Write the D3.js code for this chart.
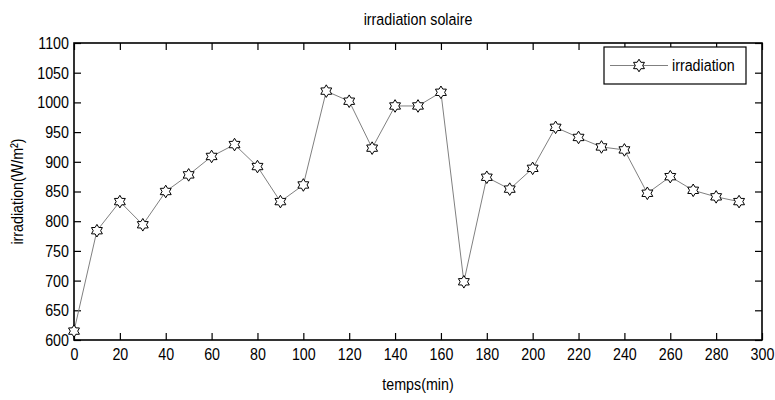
<!DOCTYPE html>
<html>
<head>
<meta charset="utf-8">
<script src="https://cdn.jsdelivr.net/npm/d3@7"></script>
<style>
  body { margin: 0; background: #fff; }
  text { font-family: "Liberation Sans", Arial, sans-serif; fill: #000; }
</style>
</head>
<body>
<div id="chart"></div>
<script>
// Data
const temps = [0, 10, 20, 30, 40, 50, 60, 70, 80, 90, 100, 110, 120, 130, 140,
  150, 160, 170, 180, 190, 200, 210, 220, 230, 240, 250, 260, 270, 280, 290];
const irradiation = [615, 784, 833, 794, 850, 878, 909, 929, 892, 833, 861, 1019, 1002, 923, 994,
  994, 1017, 698, 874, 854, 889, 958, 941, 925, 920, 847, 875, 852, 841, 833];
const xTicks = d3.range(0, 301, 20);
const yTicks = d3.range(600, 1101, 50);

const W = 775, H = 400;
const margin = { top: 43, right: 13, bottom: 60, left: 74 };
const innerW = W - margin.left - margin.right;
const innerH = H - margin.top - margin.bottom;
const squeeze = 0.84; // the original uses a narrow Arial

const svg = d3.select('#chart').append('svg')
  .attr('width', W)
  .attr('height', H);

const g = svg.append('g')
  .attr('transform', `translate(${margin.left},${margin.top})`);

const x = d3.scaleLinear().domain([0, 300]).range([0, innerW]);
const y = d3.scaleLinear().domain([600, 1100]).range([innerH, 0]);

// MATLAB-like inward ticks on all four sides
const tickLen = 7;
g.append('g')
  .attr('transform', `translate(0,${innerH})`)
  .call(d3.axisBottom(x).tickValues(xTicks).tickSizeInner(-tickLen).tickSizeOuter(0).tickPadding(8).tickFormat(d3.format('d')))
  .call(a => a.select('.domain').remove())
  .call(a => a.selectAll('text').style('font-size', '17px').attr('transform', `scale(${squeeze},1)`));
g.append('g')
  .call(d3.axisTop(x).tickValues(xTicks).tickSizeInner(-tickLen).tickSizeOuter(0).tickFormat(''))
  .call(a => a.select('.domain').remove());
g.append('g')
  .call(d3.axisLeft(y).tickValues(yTicks).tickSizeInner(-tickLen).tickSizeOuter(0).tickPadding(6).tickFormat(d3.format('d')))
  .call(a => a.select('.domain').remove())
  .call(a => a.selectAll('text').style('font-size', '17px').attr('transform', `scale(${squeeze},1)`));
g.append('g')
  .attr('transform', `translate(${innerW},0)`)
  .call(d3.axisRight(y).tickValues(yTicks).tickSizeInner(-tickLen).tickSizeOuter(0).tickFormat(''))
  .call(a => a.select('.domain').remove());
g.selectAll('.tick line').attr('stroke', '#000').attr('stroke-width', 1.2);

// box
g.append('rect')
  .attr('width', innerW).attr('height', innerH)
  .attr('fill', 'none').attr('stroke', '#000').attr('stroke-width', 1.6);

// hexagram marker
const hexStar = (() => {
  const pts = [];
  const ro = 6.3, ri = 3.7;
  for (let i = 0; i < 12; i++) {
    const a = -Math.PI / 2 + i * Math.PI / 6;
    const r = i % 2 === 0 ? ro : ri;
    pts.push([r * Math.cos(a), r * Math.sin(a)]);
  }
  return 'M' + pts.map(p => p.join(',')).join('L') + 'Z';
})();

const pts = temps.map((t, i) => ({ t: t, v: irradiation[i] }));

g.append('path')
  .datum(pts)
  .attr('fill', 'none')
  .attr('stroke', '#808080')
  .attr('stroke-width', 1)
  .attr('d', d3.line().x(d => x(d.t)).y(d => y(d.v)));

g.selectAll('.marker')
  .data(pts)
  .join('path')
  .attr('class', 'marker')
  .attr('transform', d => `translate(${x(d.t)},${y(d.v)})`)
  .attr('d', hexStar)
  .attr('fill', '#fff')
  .attr('stroke', '#000')
  .attr('stroke-width', 1);

// legend
const legend = svg.append('g').attr('transform', 'translate(604,47)');
legend.append('rect')
  .attr('width', 142).attr('height', 37)
  .attr('fill', '#fff').attr('stroke', '#000').attr('stroke-width', 1.2);
legend.append('line')
  .attr('x1', 6).attr('x2', 64).attr('y1', 18.5).attr('y2', 18.5)
  .attr('stroke', '#808080').attr('stroke-width', 1);
legend.append('path')
  .attr('transform', 'translate(35,18.5)')
  .attr('d', hexStar)
  .attr('fill', '#fff').attr('stroke', '#000');
legend.append('text')
  .attr('transform', `translate(68,18.5) scale(${squeeze},1)`)
  .attr('dy', '0.35em')
  .style('font-size', '17px')
  .text('irradiation');

// title and labels
svg.append('text')
  .attr('transform', `translate(${margin.left + innerW / 2},25) scale(${squeeze},1)`)
  .attr('text-anchor', 'middle')
  .style('font-size', '17px')
  .text('irradiation solaire');

svg.append('text')
  .attr('transform', `translate(${margin.left + innerW / 2},390) scale(${squeeze},1)`)
  .attr('text-anchor', 'middle')
  .style('font-size', '17px')
  .text('temps(min)');

svg.append('text')
  .attr('transform', `translate(23,${margin.top + innerH / 2}) rotate(-90) scale(${squeeze},1)`)
  .attr('text-anchor', 'middle')
  .style('font-size', '17px')
  .text('irradiation(W/m²)');
</script>
</body>
</html>
